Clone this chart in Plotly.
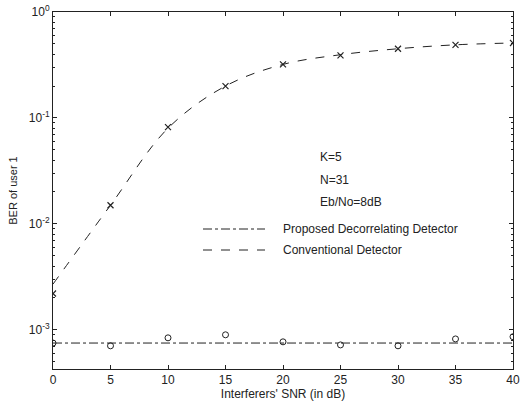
import plotly.graph_objects as go

snr = [0, 5, 10, 15, 20, 25, 30, 35, 40]
conv_sim = [2.2e-3, 0.015, 0.082, 0.20, 0.32, 0.39, 0.45, 0.49, 0.51]
conv_theory = [2.7e-3, 0.015, 0.080, 0.20, 0.32, 0.395, 0.45, 0.49, 0.51]
prop_sim = [7.5e-4, 7.06e-4, 8.4e-4, 8.97e-4, 7.7e-4, 7.2e-4, 7.06e-4, 8.2e-4, 8.6e-4]
prop_theory = [7.5e-4] * 9
ytick_vals = [1e-3, 1e-2, 1e-1, 1]
ytick_text = ["10<sup>-3</sup>", "10<sup>-2</sup>", "10<sup>-1</sup>", "10<sup>0</sup>"]
yminor_vals = [m * 10.0 ** e for e in (-4, -3, -2, -1) for m in range(2, 10)]
xtick_vals = [0, 5, 10, 15, 20, 25, 30, 35, 40]

W, H = 530, 403
L, R, T, B = 53, 17, 12, 34
PW, PH = W - L - R, H - T - B

def px(x):
    return (x - L) / PW

def py(y):
    return 1 - (y - T) / PH

ink = "#222222"
font = dict(family="Liberation Sans, Arial, sans-serif", size=11, color=ink)
tfont = dict(family="Liberation Sans, Arial, sans-serif", size=12, color=ink)

fig = go.Figure()
fig.add_trace(go.Scatter(x=snr, y=conv_theory, mode="lines", line=dict(color=ink, width=1, dash="dash", shape="spline"), showlegend=False))
fig.add_trace(go.Scatter(x=snr, y=conv_sim, mode="markers", marker=dict(symbol="x-thin", size=6, line=dict(color=ink, width=1.2)), showlegend=False))
fig.add_trace(go.Scatter(x=snr, y=prop_theory, mode="lines", line=dict(color=ink, width=1, dash="dashdot"), showlegend=False))
fig.add_trace(go.Scatter(x=snr, y=prop_sim, mode="markers", marker=dict(symbol="circle-open", size=6, color=ink, line=dict(color=ink, width=1)), showlegend=False))

fig.update_layout(
    width=W, height=H,
    margin=dict(l=L, r=R, t=T, b=B),
    paper_bgcolor="white", plot_bgcolor="white",
    font=font,
    xaxis=dict(range=[0, 40], tickvals=xtick_vals, ticks="inside", ticklen=4, tickcolor=ink, automargin=False,
               showline=True, linecolor=ink, linewidth=1, mirror="ticks", showgrid=False, zeroline=False,
               tickfont=tfont,
               title=dict(text="Interferers' SNR (in dB)", font=tfont, standoff=0)),
    yaxis=dict(type="log", range=[-3.37, 0], tickvals=ytick_vals, ticktext=ytick_text, ticks="inside", ticklen=4,
               tickcolor=ink, showline=True, linecolor=ink, linewidth=1, mirror="ticks", showgrid=False, zeroline=False,
               automargin=False, tickfont=tfont,
               minor=dict(tickmode="array", tickvals=yminor_vals, ticks="inside", ticklen=2, tickcolor=ink, showgrid=False),
               title=dict(text="BER of user 1", font=font, standoff=8)),
)

for txt, y in [("K=5", 157), ("N=31", 180), ("Eb/No=8dB", 202)]:
    fig.add_annotation(x=px(318), y=py(y), xref="paper", yref="paper", text=txt, showarrow=False,
                       xanchor="left", yanchor="middle", font=tfont)

for txt, y, dash in [("Proposed Decorrelating Detector", 229, "dashdot"), ("Conventional Detector", 250, "dash")]:
    fig.add_shape(type="line", xref="paper", yref="paper", x0=px(203), x1=px(265), y0=py(y), y1=py(y),
                  line=dict(color=ink, width=1, dash=dash))
    fig.add_annotation(x=px(281), y=py(y), xref="paper", yref="paper", text=txt, showarrow=False,
                       xanchor="left", yanchor="middle", font=tfont)

fig.write_html("out.html", config={"displayModeBar": False}, post_script="document.body.style.margin='0';")
